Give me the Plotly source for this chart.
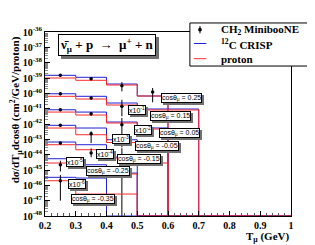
import plotly.graph_objects as go

# ---------------- data ----------------
T_EDGES = [0.2, 0.3, 0.4, 0.5, 0.6, 0.7, 0.8, 0.9, 1.0]      # T_mu bin edges (GeV)
T_DATA = [0.25, 0.35, 0.45, 0.55]                             # data bin centres (GeV)
COS_BINS = ["0.25", "0.15", "0.05", "-0.05", "-0.15", "-0.25", "-0.35"]
SCALE = [1.0, 1e-1, 1e-2, 1e-3, 1e-4, 1e-5, 1e-6]
SCALE_TEXT = ["", "x10<sup>-1</sup>", "x10<sup>-2</sup>", "x10<sup>-3</sup>",
              "x10<sup>-4</sup>", "x10<sup>-5</sup>", "x10<sup>-6</sup>"]

# 12C CRISP (unscaled, cm^2/GeV/proton), 8 bins from 0.2 to 1.0 GeV
crisp_c12 = [
    [1.50e-39, 1.11e-39, 4.06e-40, 6.7e-41, 0, 0, 0, 0],
    [9.4e-40, 6.4e-40, 2.34e-40, 9.5e-41, 9.5e-41, 0, 0, 0],
    [8.5e-40, 6.0e-40, 1.35e-40, 5.5e-41, 0, 0, 0, 0],
    [8.2e-40, 5.47e-40, 9.4e-41, 3.83e-41, 0, 0, 0, 0],
    [6.67e-40, 4.45e-40, 7.0e-41, 0, 0, 0, 0, 0],
    [5.43e-40, 2.2e-40, 6.3e-41, 0, 0, 0, 0, 0],
    [3.33e-40, 2.99e-40, 0, 0, 0, 0, 0, 0],
]
# free proton (unscaled)
proton = [
    [1.0e-39, 7.07e-40, 3.49e-40, 6.7e-41, 0, 0, 0, 0],
    [6.4e-40, 4.26e-40, 1.73e-40, 8.2e-41, 8.2e-41, 0, 0, 0],
    [6.0e-40, 3.85e-40, 1.16e-40, 4.7e-41, 0, 0, 0, 0],
    [5.47e-40, 2.0e-40, 6.2e-41, 2.7e-41, 0, 0, 0, 0],
    [4.45e-40, 2.1e-40, 6.0e-41, 2.85e-41, 0, 0, 0, 0],
    [2.85e-40, 1.35e-40, 5.5e-41, 0, 0, 0, 0, 0],
    [2.0e-40, 2.7e-41, 2.7e-41, 0, 0, 0, 0, 0],
]
# CH2 MiniBooNE data (unscaled) and errors
miniboone = [
    [1.5e-39, 9.0e-40, 3.14e-40, 1.22e-40],
    [9.4e-40, 4.96e-40, 1.42e-40, None],
    [8.5e-40, 4.68e-40, 9.0e-41, None],
    [8.2e-40, 2.32e-40, 9.0e-41, None],
    [5.74e-40, 1.28e-40, 6.0e-41, None],
    [2.2e-40, None, None, None],
    [2.0e-40, None, None, None],
]
miniboone_err_up = [
    [3.0e-40, 1.8e-40, 2.3e-40, 1.0e-40],
    [1.9e-40, 1.0e-40, 2.4e-40, None],
    [1.7e-40, 1.2e-40, 1.55e-40, None],
    [1.6e-40, 1.0e-40, 1.3e-40, None],
    [1.4e-40, 1.3e-40, 2.0e-40, None],
    [1.8e-40, None, None, None],
    [2.7e-40, None, None, None],
]
miniboone_err_dn = [
    [3.0e-40, 1.8e-40, 1.8e-40, 9.6e-41],
    [1.9e-40, 1.0e-40, 1.1e-40, None],
    [1.7e-40, 1.2e-40, 7.0e-41, None],
    [1.6e-40, 1.75e-40, 6.0e-41, None],
    [1.4e-40, 6.0e-41, 8.0e-41, None],
    [1.4e-40, None, None, None],
    [1.9e-40, None, None, None],
]

Y_TICK_EXP = list(range(-36, -49, -1))

# ---------------- styles / layout positions ----------------
BLUE = "#2020d8"
RED = "#ff2a2a"
SERIF = "Liberation Serif"
SANS = "Liberation Sans"
Y_FLOOR = 1e-48          # empty bins sit on the axis floor (as in ROOT log plots)

# label centres in paper coordinates
COS_POS = [(0.553, 0.639), (0.512, 0.542), (0.546, 0.452), (0.456, 0.382),
           (0.384, 0.310), (0.256, 0.243), (0.195, 0.095)]
SCALE_POS = [None, (0.376, 0.577), (0.400, 0.466), (0.307, 0.418),
             (0.244, 0.338), (0.122, 0.291), (0.132, 0.172)]

fig = go.Figure()

for k in range(len(COS_BINS)):
    s = SCALE[k]
    for vals, color in ((crisp_c12[k], BLUE), (proton[k], RED)):
        y = [v * s if v > 0 else Y_FLOOR for v in vals]
        y.append(y[-1])
        fig.add_trace(go.Scatter(
            x=T_EDGES, y=y, mode="lines",
            line=dict(color=color, width=1, shape="hv"),
            showlegend=False, hoverinfo="skip", cliponaxis=True))
    xs, ys, eu, ed = [], [], [], []
    for t, v, u, d in zip(T_DATA, miniboone[k], miniboone_err_up[k], miniboone_err_dn[k]):
        if v is None:
            continue
        xs.append(t); ys.append(v * s); eu.append(u * s); ed.append(d * s)
    fig.add_trace(go.Scatter(
        x=xs, y=ys, mode="markers",
        marker=dict(color="black", size=3.5, symbol="circle"),
        error_y=dict(type="data", array=eu, arrayminus=ed, symmetric=False,
                     color="black", thickness=1, width=0),
        showlegend=False, hoverinfo="skip"))

annotations = []
shapes = []


def boxed(text, x, y, size, family, pad, shadow=2):
    common = dict(x=x, y=y, xref="paper", yref="paper", showarrow=False,
                  xanchor="center", yanchor="middle", text=text, borderpad=pad,
                  borderwidth=1)
    annotations.append(dict(common, font=dict(family=family, size=size, color="#707070"),
                            bgcolor="#707070", bordercolor="#707070",
                            xshift=shadow, yshift=-shadow))
    annotations.append(dict(common, font=dict(family=family, size=size, color="black"),
                            bgcolor="white", bordercolor="black"))


for k, lab in enumerate(COS_BINS):
    cx, cy = COS_POS[k]
    boxed("cosθ<sub>μ</sub> = " + lab, cx, cy, 7, SANS, 0)
    if SCALE_POS[k] is not None:
        sx, sy = SCALE_POS[k]
        boxed(SCALE_TEXT[k], sx, sy, 7, SANS, 0)

# reaction title box
boxed("<b>ν\u0304<sub>μ</sub> + p \u00a0→\u00a0 μ<sup>+</sup> + n</b>", 0.252, 0.927, 13, SERIF, 1, 3)

# legend (drawn as a box with keys)
shapes.append(dict(type="rect", xref="paper", yref="paper", x0=0.589, x1=1.073,
                   y0=0.815, y1=1.049, fillcolor="white",
                   line=dict(color="black", width=1), layer="above"))
rows = [1.0125, 0.9375, 0.8549]
shapes.append(dict(type="line", xref="paper", yref="paper", x0=0.630, x1=0.630,
                   y0=rows[0] - 0.02, y1=rows[0] + 0.02,
                   line=dict(color="black", width=1), layer="above"))
shapes.append(dict(type="circle", xref="paper", yref="paper",
                   x0=0.630 - 0.0065, x1=0.630 + 0.0065,
                   y0=rows[0] - 0.0088, y1=rows[0] + 0.0088,
                   fillcolor="black", line=dict(color="black", width=0.5), layer="above"))
shapes.append(dict(type="line", xref="paper", yref="paper", x0=0.605, x1=0.656,
                   y0=rows[1], y1=rows[1], line=dict(color=BLUE, width=1), layer="above"))
shapes.append(dict(type="line", xref="paper", yref="paper", x0=0.605, x1=0.656,
                   y0=rows[2], y1=rows[2], line=dict(color=RED, width=1), layer="above"))
for txt, ry in zip(["CH<sub>2</sub> MinibooNE", "<sup>12</sup>C CRISP", "proton"], rows):
    annotations.append(dict(text="<b>" + txt + "</b>", x=0.707, y=ry, xref="paper", yref="paper",
                            xanchor="left", yanchor="middle", showarrow=False,
                            font=dict(family=SERIF, size=11, color="black")))

# axis titles
annotations.append(dict(text="<b>dσ/dT<sub>μ</sub>dcosθ (cm<sup>2</sup>/GeV/proton)</b>",
                        x=-0.118, y=0.58, xref="paper", yref="paper", textangle=-90,
                        showarrow=False, xanchor="center", yanchor="middle",
                        font=dict(family=SERIF, size=11, color="black")))
annotations.append(dict(text="<b>T<sub>μ</sub> (GeV)</b>", x=1.0, y=-0.114,
                        xref="paper", yref="paper", xanchor="right", yanchor="middle",
                        showarrow=False, font=dict(family=SERIF, size=11, color="black")))

fig.update_layout(
    width=315, height=245,
    margin=dict(l=37, r=32, t=24, b=37, autoexpand=False),
    paper_bgcolor="white", plot_bgcolor="white",
    showlegend=False,
    annotations=annotations, shapes=shapes,
    xaxis=dict(range=[0.2, 1.0], dtick=0.1, tick0=0.2,
               ticks="inside", ticklen=5, tickcolor="black", tickwidth=1,
               minor=dict(ticks="inside", ticklen=3, dtick=0.02, tickcolor="#555"),
               showline=True, linecolor="black", linewidth=1, mirror=True,
               showgrid=False, zeroline=False,
               tickfont=dict(family=SERIF, size=10, color="black", weight="bold")),
    yaxis=dict(type="log", range=[-48, -36],
               tickvals=[10.0 ** e for e in Y_TICK_EXP],
               ticktext=["10<sup>%d</sup>" % e for e in Y_TICK_EXP],
               ticks="inside", ticklen=5, tickcolor="black", tickwidth=1,
               minor=dict(ticks="inside", ticklen=2.5, dtick="D1", tickcolor="#888"),
               showline=True, linecolor="black", linewidth=1, mirror=True,
               showgrid=False, zeroline=False,
               tickfont=dict(family=SERIF, size=10, color="black", weight="bold")),
)

fig.write_html("out.html")
